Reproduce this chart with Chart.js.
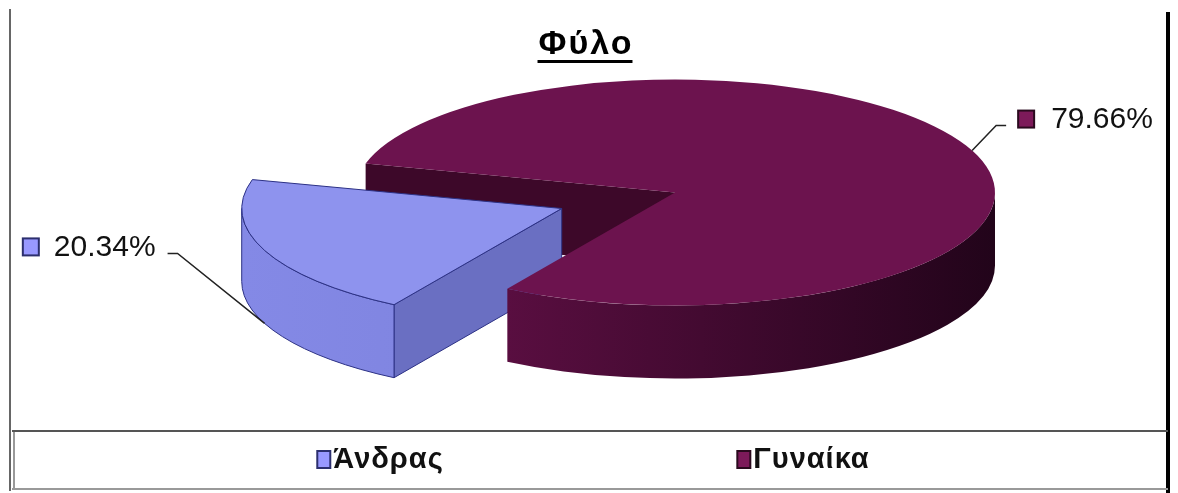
<!DOCTYPE html>
<html>
<head>
<meta charset="utf-8">
<script src="https://cdn.jsdelivr.net/npm/chart.js@4/dist/chart.umd.min.js"></script>
<style>
html,body{margin:0;padding:0;background:#fff;}
#wrap{width:1178px;height:493px;position:relative;}
</style>
</head>
<body>
<div id="wrap"><canvas id="c" width="1178" height="493"></canvas></div>
<script>
// ---- data ----
const categories = ['Άνδρας', 'Γυναίκα'];
const shares = [20.34, 79.66];
const shareLabels = ['20.34%', '79.66%'];
const titleText = 'Φύλο';

// ---- styles ----
const topColors = ['#8e93ee', '#6c134e'];
const wallColors = [['#8489e6', '#767bd4'], ['#6a114c', '#22041a']];
const faceColors = ['#6a6fc2', '#3d0829'];
const edgeColors = ['#2c3185', 'rgba(0,0,0,0)'];
const legendColors = ['#9999ff', '#7d1a5a'];
const legendBorders = ['#2c2f6e', '#2a0a1e'];
const leaderOffsets = [[-87, -70], [24, -25]];
const TILT = 0.353, DEPTH = 73;
const FONT = '"Liberation Sans", Arial, sans-serif';

function slices(chart) {
  const meta = chart.getDatasetMeta(0);
  return meta.data.map((arc, i) => {
    const p = arc.getProps(['x', 'y', 'startAngle', 'endAngle', 'outerRadius'], true);
    const mid = (p.startAngle + p.endAngle) / 2;
    const off = arc.options.offset || 0;
    const cx = p.x + Math.cos(mid) * off;
    const cy = p.y - DEPTH / 2 + Math.sin(mid) * off * TILT;
    return {i, cx, cy, a0: p.startAngle, a1: p.endAngle, mid, rx: p.outerRadius, ry: p.outerRadius * TILT};
  });
}

const pie3d = {
  id: 'pie3d',
  beforeDatasetsDraw(chart) {
    const ctx = chart.ctx;
    const S = slices(chart);
    ctx.save();
    ctx.lineJoin = 'round';
    ctx.lineWidth = 1;
    // radial cut faces
    const faces = [];
    S.forEach(s => {
      [[s.a0, Math.cos(s.a0) < 0], [s.a1, Math.cos(s.a1) > 0]].forEach(([a, vis]) => {
        if (!vis) return;
        const ex = s.cx + s.rx * Math.cos(a), ey = s.cy + s.ry * Math.sin(a);
        faces.push({s, ex, ey, d: (s.cy + ey) / 2});
      });
    });
    faces.sort((a, b) => a.d - b.d);
    faces.forEach(f => {
      const s = f.s;
      ctx.beginPath();
      ctx.moveTo(s.cx, s.cy);
      ctx.lineTo(f.ex, f.ey);
      ctx.lineTo(f.ex, f.ey + DEPTH);
      ctx.lineTo(s.cx, s.cy + DEPTH);
      ctx.closePath();
      ctx.fillStyle = faceColors[s.i];
      ctx.fill();
      ctx.strokeStyle = edgeColors[s.i];
      ctx.stroke();
    });
    // outer walls (front half only)
    S.forEach(s => {
      for (let k = -1; k <= 2; k++) {
        const b0 = Math.max(s.a0, 2 * Math.PI * k);
        const b1 = Math.min(s.a1, 2 * Math.PI * k + Math.PI);
        if (b1 <= b0) continue;
        ctx.beginPath();
        ctx.ellipse(s.cx, s.cy, s.rx, s.ry, 0, b0, b1);
        ctx.ellipse(s.cx, s.cy + DEPTH, s.rx, s.ry, 0, b1, b0, true);
        ctx.closePath();
        const g = ctx.createLinearGradient(s.cx - s.rx, 0, s.cx + s.rx, 0);
        g.addColorStop(0, wallColors[s.i][0]);
        g.addColorStop(1, wallColors[s.i][1]);
        ctx.fillStyle = g;
        ctx.fill();
        ctx.strokeStyle = edgeColors[s.i];
        ctx.stroke();
      }
    });
    // top faces
    S.forEach(s => {
      ctx.beginPath();
      ctx.moveTo(s.cx, s.cy);
      ctx.ellipse(s.cx, s.cy, s.rx, s.ry, 0, s.a0, s.a1);
      ctx.closePath();
      ctx.fillStyle = topColors[s.i];
      ctx.fill();
      ctx.strokeStyle = edgeColors[s.i];
      ctx.stroke();
    });
    ctx.restore();
    return false;
  },
  afterDraw(chart) {
    const ctx = chart.ctx;
    const S = slices(chart);
    ctx.save();
    // data labels with leader lines
    S.forEach(s => {
      const c = Math.cos(s.mid), sn = Math.sin(s.mid);
      const ax = s.cx + s.rx * c;
      const ay = s.cy + s.ry * sn + (sn > 0 ? DEPTH : 0);
      const bx = ax + leaderOffsets[s.i][0], by = ay + leaderOffsets[s.i][1];
      const dir = c < 0 ? -1 : 1;
      const hx = bx + dir * 10;
      ctx.beginPath();
      ctx.moveTo(ax, ay); ctx.lineTo(bx, by); ctx.lineTo(hx, by);
      ctx.strokeStyle = '#222'; ctx.lineWidth = 1.5; ctx.stroke();
      ctx.font = '30px ' + FONT;
      ctx.textBaseline = 'middle';
      const text = shareLabels[s.i];
      const tw = ctx.measureText(text).width;
      const ty = by - 7;
      let boxX, textX;
      if (dir < 0) { textX = hx - 12 - tw; boxX = textX - 15 - 16; }
      else { boxX = hx + 12; textX = boxX + 16 + 17; }
      ctx.fillStyle = legendColors[s.i];
      ctx.fillRect(boxX, ty - 8, 16, 17);
      ctx.lineWidth = 2; ctx.strokeStyle = legendBorders[s.i];
      ctx.strokeRect(boxX, ty - 8, 16, 17);
      ctx.fillStyle = '#111';
      ctx.textAlign = 'left';
      ctx.fillText(text, textX, ty + 1);
    });
    // title with underline
    ctx.font = 'bold 34px ' + FONT;
    ctx.letterSpacing = '2px';
    ctx.fillStyle = '#000';
    ctx.textAlign = 'left';
    ctx.textBaseline = 'alphabetic';
    const tcx = 585;
    const w = ctx.measureText(titleText).width - 2;
    ctx.fillText(titleText, tcx - w / 2, 54);
    ctx.fillRect(tcx - w / 2 - 1, 60, w + 2, 3);
    ctx.letterSpacing = '0px';
    // frame
    ctx.fillStyle = '#666';
    ctx.fillRect(9, 9, 2, 482);
    ctx.fillStyle = '#000';
    ctx.fillRect(1166, 12, 4, 481);
    ctx.fillStyle = '#555';
    ctx.fillRect(12, 430, 1156, 2);
    ctx.fillStyle = '#999';
    ctx.fillRect(12, 488, 1156, 2);
    ctx.fillRect(13, 432, 2, 57);
    // legend
    ctx.font = 'bold 29px ' + FONT;
    ctx.letterSpacing = '1px';
    ctx.textBaseline = 'middle';
    ctx.textAlign = 'left';
    const lcx = 592, spacing = 423, ly = 459;
    categories.forEach((cat, i) => {
      const tw = ctx.measureText(cat).width;
      const iw = 13 + 3 + tw;
      const x0 = lcx + (i - (categories.length - 1) / 2) * spacing - iw / 2;
      ctx.fillStyle = legendColors[i];
      ctx.fillRect(x0, ly - 8, 13, 17);
      ctx.lineWidth = 2; ctx.strokeStyle = legendBorders[i];
      ctx.strokeRect(x0, ly - 8, 13, 17);
      ctx.fillStyle = '#111';
      ctx.fillText(cat, x0 + 16, ly + 1);
    });
    ctx.restore();
  }
};

new Chart(document.getElementById('c'), {
  type: 'pie',
  data: {
    labels: categories,
    datasets: [{
      data: shares,
      backgroundColor: topColors,
      borderColor: edgeColors,
      borderWidth: 1,
      offset: [122, 0],
      radius: 320,
      rotation: 211.6
    }]
  },
  options: {
    responsive: false,
    devicePixelRatio: 1,
    animation: false,
    events: [],
    layout: {padding: {left: 172, right: 0, top: 59, bottom: 94}},
    plugins: {legend: {display: false}, title: {display: false}, tooltip: {enabled: false}}
  },
  plugins: [pie3d]
});
</script>
</body>
</html>
